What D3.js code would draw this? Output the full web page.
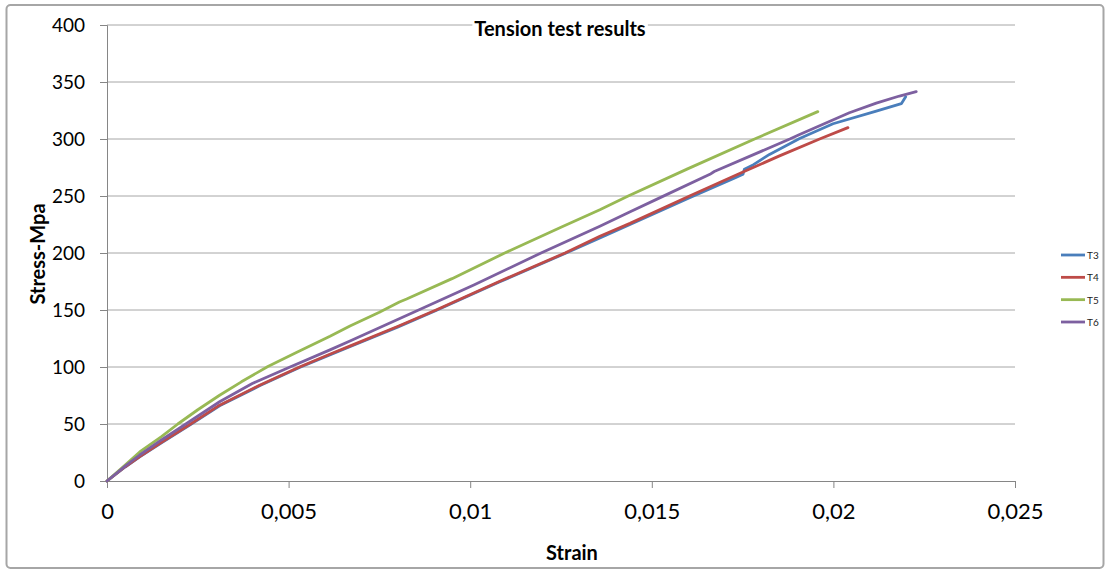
<!DOCTYPE html>
<html>
<head>
<meta charset="utf-8">
<script src="https://cdn.jsdelivr.net/npm/d3@7"></script>
<style>
  html, body { margin: 0; padding: 0; background: #fff; }
  svg { display: block; font-family: Lato, "Open Sans", sans-serif; }
</style>
</head>
<body>
<svg id="chart" width="1108" height="572"></svg>
<script>
// Stress-strain curves: [strain, stress in MPa]
const T3 = [[0,0],[0.0005,12.3],[0.0009,21.2],[0.0015,33.5],[0.0023,49.5],[0.0031,66],[0.0042,83.5],[0.0053,99.5],[0.0062,111.5],[0.0067,118],[0.0080,135],[0.00906,149.5],[0.0108,174.5],[0.01261,199.5],[0.01357,213.2],[0.0144,225],[0.01604,248.5],[0.0173,266],[0.01751,269],[0.01755,273.5],[0.0178,277.5],[0.01824,286.5],[0.01907,300.5],[0.01999,313.4],[0.02118,324.5],[0.02187,331],[0.02193,334],[0.02199,337]];
const T4 = [[0,0],[0.0005,12.5],[0.0009,21.5],[0.0015,34],[0.0023,50],[0.0031,66.5],[0.0042,84],[0.0053,100],[0.0062,112],[0.0067,118.5],[0.0080,135.5],[0.00906,150],[0.0108,175],[0.01261,200],[0.01357,214.7],[0.0144,226],[0.01604,250],[0.01751,271],[0.0185,285],[0.01962,300],[0.0204,310]];
const T5 = [[0,0],[0.0005,14],[0.0009,25.5],[0.0015,39],[0.00195,50],[0.0025,62.5],[0.0031,75.2],[0.0037,87],[0.00443,100.5],[0.0052,112.5],[0.00614,127],[0.00669,136],[0.0075,148],[0.00805,157],[0.00825,159.6],[0.0095,177.5],[0.01095,200],[0.0125,222.5],[0.01357,238],[0.01435,250],[0.0160,274],[0.01783,300],[0.01957,324]];
const T6 = [[0,0],[0.0005,13],[0.0009,22.8],[0.0015,36],[0.00217,50],[0.0031,69.5],[0.004,85.5],[0.00504,100],[0.00614,115],[0.00669,122.8],[0.00858,150],[0.0101,172],[0.01195,200],[0.01357,223.5],[0.01439,236],[0.01526,249],[0.0166,269],[0.01672,271.5],[0.0188,300],[0.01907,304],[0.02044,323],[0.02118,331.5],[0.02182,337.7],[0.02228,341.5]];

const seriesNames = ["T3", "T4", "T5", "T6"];
const seriesData = [T3, T4, T5, T6];
const seriesColors = ["#4a7ebb", "#be4b48", "#98b954", "#7d60a0"];

const xTicks = [0, 0.005, 0.01, 0.015, 0.02, 0.025];
const xTickLabels = ["0", "0,005", "0,01", "0,015", "0,02", "0,025"];
const yTicks = [0, 50, 100, 150, 200, 250, 300, 350, 400];

const svg = d3.select("#chart");

// chart frame
svg.append("rect")
  .attr("x", 6.5).attr("y", 5).attr("width", 1097).attr("height", 563)
  .attr("rx", 4).attr("fill", "#fff")
  .attr("stroke", "#a6a6a6").attr("stroke-width", 2);

const plot = { left: 107, right: 1015, top: 25, bottom: 481 };
const x = d3.scaleLinear().domain([0, 0.025]).range([plot.left, plot.right]);
const y = d3.scaleLinear().domain([0, 400]).range([plot.bottom, plot.top]);

// horizontal gridlines
svg.append("g")
  .selectAll("line")
  .data(yTicks.filter(d => d > 0))
  .join("line")
  .attr("x1", plot.left).attr("x2", plot.right)
  .attr("y1", d => y(d)).attr("y2", d => y(d))
  .attr("stroke", "#a6a6a6").attr("stroke-width", 1);

const tickFont = "Lato, 'Open Sans', sans-serif";

// y axis
const yAxis = svg.append("g")
  .attr("transform", `translate(${plot.left},0)`)
  .call(d3.axisLeft(y).tickValues(yTicks).tickSize(7).tickPadding(15).tickFormat(d3.format("d")));
yAxis.select(".domain").attr("stroke", "#868686");
yAxis.selectAll(".tick line").attr("stroke", "#868686");
yAxis.selectAll(".tick text")
  .attr("font-size", 19).attr("fill", "#000")
  .attr("font-family", tickFont);

// x axis
const xAxis = svg.append("g")
  .attr("transform", `translate(0,${plot.bottom})`)
  .call(d3.axisBottom(x).tickValues(xTicks).tickSize(7).tickPadding(15)
    .tickFormat((d, i) => xTickLabels[i]));
xAxis.select(".domain").attr("stroke", "#868686");
xAxis.selectAll(".tick line").attr("stroke", "#868686");
xAxis.selectAll(".tick text")
  .attr("font-size", 22).attr("fill", "#000")
  .attr("font-family", tickFont);

// curves
const line = d3.line().x(d => x(d[0])).y(d => y(d[1]));
svg.append("g")
  .selectAll("path")
  .data(seriesData)
  .join("path")
  .attr("d", line)
  .attr("fill", "none")
  .attr("stroke", (d, i) => seriesColors[i])
  .attr("stroke-width", 2.8)
  .attr("stroke-linejoin", "round")
  .attr("stroke-linecap", "round");

// title on a white backing so the top gridline stops behind it
const titleGroup = svg.append("g");
const titleBg = titleGroup.append("rect").attr("fill", "#fff");
const title = titleGroup.append("text")
  .attr("x", 560).attr("y", 36)
  .attr("text-anchor", "middle")
  .attr("font-size", 20).attr("font-weight", "bold")
  .text("Tension test results");
const tb = title.node().getBBox();
titleBg.attr("x", tb.x - 2).attr("y", tb.y).attr("width", tb.width + 4).attr("height", tb.height);

// axis titles
svg.append("text")
  .attr("transform", "translate(45,254) rotate(-90)")
  .attr("text-anchor", "middle")
  .attr("font-size", 20).attr("font-weight", "bold")
  .text("Stress-Mpa");
svg.append("text")
  .attr("x", 572).attr("y", 560)
  .attr("text-anchor", "middle")
  .attr("font-size", 20).attr("font-weight", "bold")
  .text("Strain");

// legend
const legendY = d3.scalePoint().domain(seriesNames).range([255, 322]);
const items = svg.append("g").selectAll("g")
  .data(seriesNames)
  .join("g")
  .attr("transform", d => `translate(1061,${legendY(d)})`);
items.append("line")
  .attr("x1", 0).attr("x2", 24)
  .attr("stroke", (d, i) => seriesColors[i])
  .attr("stroke-width", 2.8);
items.append("text")
  .attr("x", 26).attr("y", 4)
  .attr("font-size", 10).attr("fill", "#222")
  .text(d => d);
</script>
</body>
</html>
